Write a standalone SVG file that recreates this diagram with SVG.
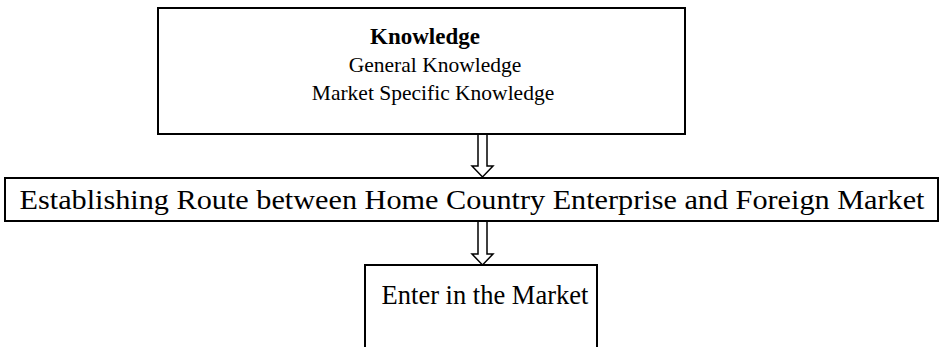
<svg xmlns="http://www.w3.org/2000/svg" width="944" height="347" viewBox="0 0 944 347">
  <style>
    .box { fill: #ffffff; stroke: #000000; stroke-width: 2; }
    .arrow { fill: #ffffff; stroke: #000000; stroke-width: 1.5; stroke-linejoin: miter; }
    .t { font-family: "Liberation Serif", "Times New Roman", serif; fill: #000000; text-anchor: middle; }
  </style>
  <rect width="944" height="347" fill="#ffffff"/>

  <!-- hollow block arrows between the stages -->
  <g id="connectors">
    <polygon class="arrow" points="478,134 487,134 487,166 493,166 482.5,177 472,166 478,166 478,134"/>
    <polygon class="arrow" points="478,221 487,221 487,254 493,254 482.5,265 472,254 478,254 478,221"/>
  </g>

  <g id="knowledge">
    <rect class="box" x="158" y="8" width="527" height="126"/>
    <text class="t" x="425" y="44" font-size="23" font-weight="bold">Knowledge</text>
    <text class="t" x="435" y="72" font-size="21.5">General Knowledge</text>
    <text class="t" x="433" y="100" font-size="21.5">Market Specific Knowledge</text>
  </g>

  <g id="route">
    <rect class="box" x="5" y="178" width="933" height="43"/>
    <text class="t" x="472" y="209" font-size="28" textLength="905" lengthAdjust="spacingAndGlyphs">Establishing Route between Home Country Enterprise and Foreign Market</text>
  </g>

  <g id="enter">
    <rect class="box" x="365" y="265" width="232" height="90"/>
    <text class="t" x="485" y="304" font-size="26.5">Enter in the Market</text>
  </g>
</svg>
